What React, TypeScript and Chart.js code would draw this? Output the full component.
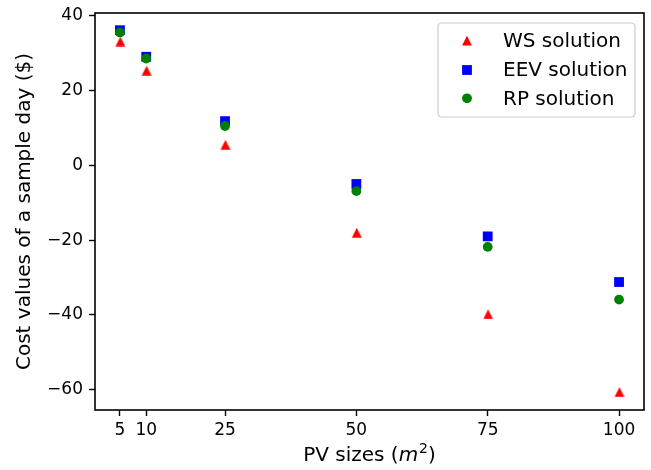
import React, { useEffect, useRef } from "react";
import { Chart, registerables } from "chart.js";

Chart.register(...registerables);

const pvSizes = [5, 10, 25, 50, 75, 100];
const wsValues = [33.2, 25.4, 5.6, -17.9, -39.7, -60.5];
const eevValues = [36.1, 29.0, 11.8, -5.0, -19.0, -31.2];
const rpValues = [35.5, 28.5, 10.5, -6.9, -21.8, -35.9];
const xTicks = [5, 10, 25, 50, 75, 100];
const yTicks = [-60, -40, -20, 0, 20, 40];
const seriesNames = ["WS solution", "EEV solution", "RP solution"];

const FONT = "'DejaVu Sans', sans-serif";
const RED = "#ff0000";
const BLUE = "#0000ff";
const GREEN = "#008000";

function makeTriangle(color: string, size: number): HTMLCanvasElement {
  const c = document.createElement("canvas");
  const pad = 1;
  c.width = size + pad * 2;
  c.height = size + pad * 2;
  const ctx = c.getContext("2d")!;
  ctx.fillStyle = color;
  ctx.beginPath();
  ctx.moveTo(pad, pad + size);
  ctx.lineTo(pad + size, pad + size);
  ctx.lineTo(pad + size / 2, pad);
  ctx.closePath();
  ctx.fill();
  return c;
}

const MS = 9.8;

function drawMarker(ctx: CanvasRenderingContext2D, kind: number, x: number, y: number) {
  ctx.save();
  if (kind === 0) {
    ctx.fillStyle = RED;
    ctx.beginPath();
    ctx.moveTo(x - MS / 2, y + MS / 2);
    ctx.lineTo(x + MS / 2, y + MS / 2);
    ctx.lineTo(x, y - MS / 2);
    ctx.closePath();
    ctx.fill();
  } else if (kind === 1) {
    ctx.fillStyle = BLUE;
    ctx.fillRect(x - MS / 2, y - MS / 2, MS, MS);
  } else {
    ctx.fillStyle = GREEN;
    ctx.beginPath();
    ctx.arc(x, y, MS / 2, 0, Math.PI * 2);
    ctx.fill();
  }
  ctx.restore();
}

const decorPlugin = {
  id: "decor",
  afterDatasetsDraw(chart: any) {
    const ctx: CanvasRenderingContext2D = chart.ctx;
    const a = chart.chartArea;
    // frame
    ctx.save();
    ctx.strokeStyle = "#000";
    ctx.lineWidth = 1.6;
    ctx.strokeRect(a.left, a.top, a.right - a.left, a.bottom - a.top);
    ctx.restore();

    // legend
    const lx = 438, ly = 23, lw = 197, lh = 94, r = 4;
    ctx.save();
    ctx.beginPath();
    ctx.moveTo(lx + r, ly);
    ctx.lineTo(lx + lw - r, ly);
    ctx.quadraticCurveTo(lx + lw, ly, lx + lw, ly + r);
    ctx.lineTo(lx + lw, ly + lh - r);
    ctx.quadraticCurveTo(lx + lw, ly + lh, lx + lw - r, ly + lh);
    ctx.lineTo(lx + r, ly + lh);
    ctx.quadraticCurveTo(lx, ly + lh, lx, ly + lh - r);
    ctx.lineTo(lx, ly + r);
    ctx.quadraticCurveTo(lx, ly, lx + r, ly);
    ctx.closePath();
    ctx.fillStyle = "rgba(255,255,255,0.8)";
    ctx.fill();
    ctx.strokeStyle = "#cccccc";
    ctx.lineWidth = 1.2;
    ctx.stroke();
    const rows = [40.7, 70, 98.3];
    ctx.font = `20px ${FONT}`;
    ctx.fillStyle = "#000";
    ctx.textBaseline = "middle";
    ctx.textAlign = "left";
    seriesNames.forEach((name, i) => {
      drawMarker(ctx, i, 467, rows[i]);
      ctx.fillText(name, 503, rows[i] + 1);
    });
    ctx.restore();
  },
  afterDraw(chart: any) {
    const ctx: CanvasRenderingContext2D = chart.ctx;
    const a = chart.chartArea;
    ctx.save();
    ctx.fillStyle = "#000";
    // y label
    ctx.font = `20px ${FONT}`;
    ctx.textAlign = "center";
    ctx.textBaseline = "middle";
    ctx.translate(25, (a.top + a.bottom) / 2);
    ctx.rotate(-Math.PI / 2);
    ctx.fillText("Cost values of a sample day ($)", 0, 0);
    ctx.restore();

    // x label with math
    ctx.save();
    ctx.fillStyle = "#000";
    ctx.textBaseline = "alphabetic";
    ctx.textAlign = "left";
    const normal = `20px ${FONT}`;
    const italic = `oblique 20px ${FONT}`;
    const sup = `14px ${FONT}`;
    const p1 = "PV sizes (";
    const p2 = "m";
    const p3 = "2";
    const p4 = ")";
    ctx.font = normal;
    const w1 = ctx.measureText(p1).width;
    const w4 = ctx.measureText(p4).width;
    ctx.font = italic;
    const w2 = ctx.measureText(p2).width;
    ctx.font = sup;
    const w3 = ctx.measureText(p3).width;
    const total = w1 + w2 + w3 + 1 + w4;
    let x = (a.left + a.right) / 2 - total / 2;
    const base = 461;
    ctx.font = normal;
    ctx.fillText(p1, x, base);
    x += w1;
    ctx.font = italic;
    ctx.fillText(p2, x, base);
    x += w2 + 1;
    ctx.font = sup;
    ctx.fillText(p3, x, base - 8);
    x += w3;
    ctx.font = normal;
    ctx.fillText(p4, x, base);
    ctx.restore();
  },
};

export default function App() {
  const ref = useRef<HTMLCanvasElement | null>(null);
  useEffect(() => {
    document.body.style.margin = "0";
    const triangle = makeTriangle(RED, MS);
    const toPts = (vals: number[]) => pvSizes.map((x, i) => ({ x, y: vals[i] }));
    const chart = new Chart(ref.current!, {
      type: "scatter",
      data: {
        datasets: [
          {
            label: seriesNames[0],
            data: toPts(wsValues),
            pointStyle: triangle as any,
            backgroundColor: RED,
            borderColor: RED,
            pointBorderWidth: 0,
            order: 2,
          },
          {
            label: seriesNames[1],
            data: toPts(eevValues),
            pointStyle: "rect",
            pointRadius: MS / Math.SQRT2,
            backgroundColor: BLUE,
            borderColor: BLUE,
            pointBorderWidth: 0,
            order: 1,
          },
          {
            label: seriesNames[2],
            data: toPts(rpValues),
            pointStyle: "circle",
            pointRadius: MS / 2,
            backgroundColor: GREEN,
            borderColor: GREEN,
            pointBorderWidth: 0,
            order: 0,
          },
        ],
      },
      options: {
        responsive: false,
        animation: false,
        devicePixelRatio: 1,
        layout: { padding: { left: 0, right: 7, top: 13, bottom: 0 } },
        plugins: { legend: { display: false }, tooltip: { enabled: false } },
        scales: {
          x: {
            type: "linear",
            min: 0.25,
            max: 104.75,
            afterBuildTicks: (s: any) => {
              s.ticks = xTicks.map((v) => ({ value: v }));
            },
            afterFit: (s: any) => {
              s.height = 60;
              s.paddingLeft = 0;
              s.paddingRight = 0;
            },
            border: { display: false },
            grid: {
              display: true,
              drawOnChartArea: false,
              drawTicks: true,
              tickLength: 6,
              tickWidth: 1.4,
              tickColor: "#000",
            },
            ticks: {
              color: "#000",
              font: { family: FONT, size: 17 },
              padding: 4,
              maxRotation: 0,
              autoSkip: false,
              callback: (v: any) => String(v),
            },
            title: { display: false },
          },
          y: {
            type: "linear",
            min: -65.4,
            max: 40.7,
            afterBuildTicks: (s: any) => {
              s.ticks = yTicks.map((v) => ({ value: v }));
            },
            afterFit: (s: any) => {
              s.width = 95;
              s.paddingTop = 0;
              s.paddingBottom = 0;
            },
            border: { display: false },
            grid: {
              display: true,
              drawOnChartArea: false,
              drawTicks: true,
              tickLength: 6,
              tickWidth: 1.4,
              tickColor: "#000",
            },
            ticks: {
              color: "#000",
              font: { family: FONT, size: 17 },
              padding: 6,
              autoSkip: false,
              callback: (v: any) => (v < 0 ? "\u2212" + Math.abs(v) : String(v)),
            },
            title: { display: false },
          },
        },
      },
      plugins: [decorPlugin],
    });
    return () => chart.destroy();
  }, []);
  return (
    <div style={{ position: "absolute", left: 0, top: 0, width: 651, height: 470, background: "#fff" }}>
      <canvas ref={ref} width={651} height={470} />
    </div>
  );
}
